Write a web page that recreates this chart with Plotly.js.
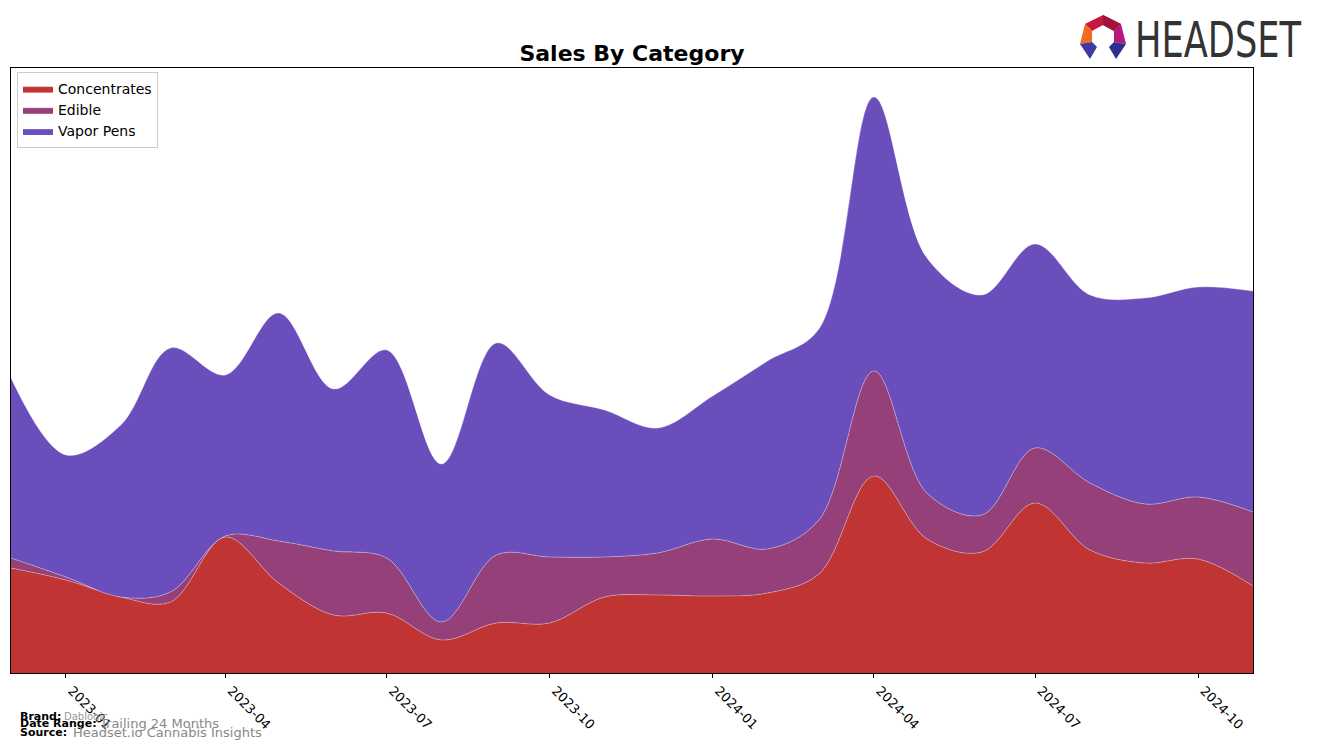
<!DOCTYPE html>
<html>
<head>
<meta charset="utf-8">
<script src="https://cdn.plot.ly/plotly-3.0.1.min.js"></script>
<style>
  html, body { margin: 0; padding: 0; background: #fff; }
  #chart { width: 1317px; height: 748px; position: relative; }
  #logo { position: absolute; left: 0; top: 0; pointer-events: none; }
</style>
</head>
<body>
<div id="chart"></div>
<svg id="logo" width="1317" height="70" xmlns="http://www.w3.org/2000/svg">
  <polygon points="1085,24 1103,15 1121,24 1114,31 1103,25 1092,31" fill="#c8163e"/>
  <polygon points="1103,15 1121,24 1114,31 1103,25" fill="#a3123a"/>
  <polygon points="1085,24 1092,31 1092,42 1080,44" fill="#f26a21"/>
  <polygon points="1121,24 1126,44 1114,42 1114,31" fill="#b8177c"/>
  <polygon points="1080,44 1092,42 1097,47 1090,59" fill="#3f3aa6"/>
  <polygon points="1126,44 1114,42 1109,47 1116,59" fill="#2f2d8f"/>
  <text x="1135" y="57" font-family="Liberation Sans Narrow, DejaVu Sans Condensed, sans-serif" font-size="50" fill="#333333" textLength="166" lengthAdjust="spacingAndGlyphs">HEADSET</text>
</svg>
<script>
// Monthly data
const months = ["2022-12-01","2023-01-01","2023-02-01","2023-03-01","2023-04-01","2023-05-01",
  "2023-06-01","2023-07-01","2023-08-01","2023-09-01","2023-10-01","2023-11-01",
  "2023-12-01","2024-01-01","2024-02-01","2024-03-01","2024-04-01","2024-05-01",
  "2024-06-01","2024-07-01","2024-08-01","2024-09-01","2024-10-01","2024-11-01"];
const concentrates = [105,93,76,71,136,90,58,60,33,50,50,76,78,77,80,99,197,134,121,170,123,110,114,87];
const edible       = [10,3,0,10,1,42,64,55,18,68,66,40,42,57,44,54,105,46,37,55,67,59,62,74];
const vaporPens    = [180,122,172,244,161,228,162,208,158,212,162,147,125,143,188,191,274,235,220,204,188,206,210,221];

const tickVals = ["2023-01-01","2023-04-01","2023-07-01","2023-10-01","2024-01-01","2024-04-01","2024-07-01","2024-10-01"];
const tickText = ["2023-01","2023-04","2023-07","2023-10","2024-01","2024-04","2024-07","2024-10"];

const seriesNames = ["Concentrates","Edible","Vapor Pens"];
const seriesColors = ["#c13434","#954079","#6a4fbc"];
const seriesData = [concentrates, edible, vaporPens];

const traces = seriesData.map((vals, i) => ({
  type: "scatter",
  mode: "lines",
  x: months,
  y: vals,
  name: seriesNames[i],
  stackgroup: "one",
  fillcolor: seriesColors[i],
  line: { shape: "spline", smoothing: 1, width: 0.7, color: "rgba(255,255,255,0.45)" }
}));

const L = 11, R = 1253, T = 68, B = 673;
const W = 1317, H = 748;
function px(x) { return (x - L) / (R - L); }
function py(y) { return (B - y) / (B - T); }

const footFont = "DejaVu Sans, sans-serif";
const annotations = [
  { text: "<b>Brand:</b>", x: px(18), y: py(716), size: 11, color: "#000" },
  { text: "Dablogic", x: px(62), y: py(716), size: 10, color: "#999" },
  { text: "<b>Date Range:</b>", x: px(18), y: py(724), size: 11, color: "#000" },
  { text: "Trailing 24 Months", x: px(97), y: py(723), size: 13, color: "#888" },
  { text: "<b>Source:</b>", x: px(18), y: py(732), size: 11, color: "#000" },
  { text: "Headset.io Cannabis Insights", x: px(71), y: py(732), size: 13, color: "#888" }
].map(a => ({
  text: a.text, x: a.x, y: a.y, xref: "paper", yref: "paper",
  xanchor: "left", yanchor: "middle", showarrow: false,
  font: { family: footFont, size: a.size, color: a.color }
}));

const layout = {
  width: W, height: H,
  margin: { l: L, r: W - R, t: T, b: H - B, pad: 0 },
  paper_bgcolor: "#ffffff",
  plot_bgcolor: "#ffffff",
  font: { family: "DejaVu Sans, sans-serif", color: "#000" },
  title: {
    text: "<b>Sales By Category</b>",
    font: { family: "DejaVu Sans, sans-serif", size: 22, color: "#000" },
    xref: "paper", x: 0.5, xanchor: "center",
    yref: "container", y: 1 - 53 / H, yanchor: "middle"
  },
  showlegend: true,
  legend: {
    x: px(17), y: py(72), xanchor: "left", yanchor: "top",
    bgcolor: "#ffffff", bordercolor: "#cccccc", borderwidth: 1,
    font: { size: 14, family: "DejaVu Sans, sans-serif" },
    traceorder: "normal", itemwidth: 30, tracegroupgap: 0
  },
  xaxis: {
    type: "date",
    range: [months[0], months[months.length - 1]],
    tickvals: tickVals, ticktext: tickText,
    tickangle: 45,
    ticklabelshift: 6,
    ticks: "outside", ticklen: 4, tickcolor: "#000", tickwidth: 1,
    tickfont: { size: 13, family: "DejaVu Sans, sans-serif", color: "#000" },
    showgrid: false, zeroline: false,
    showline: true, linecolor: "#000", linewidth: 1, mirror: true
  },
  yaxis: {
    range: [0, 605],
    showticklabels: false, ticks: "",
    showgrid: false, zeroline: false,
    showline: true, linecolor: "#000", linewidth: 1, mirror: true
  },
  annotations: annotations
};

Plotly.newPlot("chart", traces, layout, { displayModeBar: false, staticPlot: true });
</script>
</body>
</html>
